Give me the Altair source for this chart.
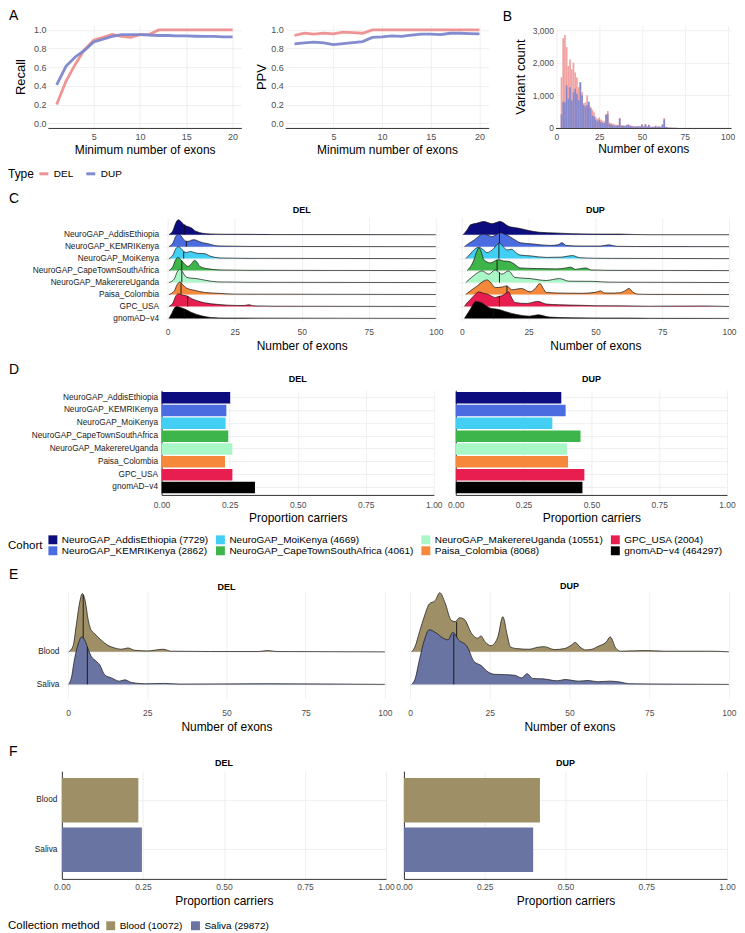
import altair as alt
import pandas as pd

FONT = "Liberation Sans"
GRID = "#EBEBEB"
LAB = "#4D4D4D"
AXL = "#333333"

# ---------------- Panel A data ----------------
MIN_EXONS = list(range(1, 21))
RECALL_DEL = [0.20, 0.45, 0.63, 0.79, 0.89, 0.92, 0.95, 0.93, 0.92, 0.95, 0.95, 1.0, 1.0, 1.0, 1.0, 1.0, 1.0, 1.0, 1.0, 1.0]
RECALL_DUP = [0.41, 0.61, 0.71, 0.78, 0.87, 0.90, 0.93, 0.95, 0.95, 0.95, 0.945, 0.94, 0.94, 0.936, 0.936, 0.932, 0.93, 0.93, 0.925, 0.925]
PPV_DEL = [0.94, 0.965, 0.955, 0.965, 0.957, 0.975, 0.971, 0.964, 1.0, 1.0, 1.0, 1.0, 1.0, 1.0, 1.0, 1.0, 1.0, 1.0, 1.0, 1.0]
PPV_DUP = [0.85, 0.86, 0.868, 0.86, 0.843, 0.854, 0.864, 0.875, 0.92, 0.925, 0.936, 0.93, 0.943, 0.954, 0.954, 0.95, 0.964, 0.964, 0.96, 0.957]
TYPES = ["DEL", "DUP"]
TYPE_COLORS = ["#EE8E8E", "#7B86CC"]

# ---------------- Panel B data ----------------
B_BINS = list(range(3, 71))
B_DEL = [1550, 2750, 2850, 2480, 1900, 2100, 1800, 2000, 1700, 1550, 1250, 1400, 1100, 760, 780, 1000,
         700, 650, 560, 480, 340, 280, 320, 260, 220, 200, 420, 520, 170, 150, 130, 110, 100, 90, 300, 90,
         80, 70, 90, 110, 80, 70, 60, 50, 50, 60, 50, 110, 50, 120, 50, 100, 40, 40, 40, 70, 40, 50, 40,
         110, 300, 40, 20, 15, 10, 10, 8, 8]
B_DUP = [420, 800, 780, 1300, 900, 1250, 850, 1100, 1200, 1050, 850, 1400, 1000, 700, 650, 700,
         800, 600, 380, 350, 250, 200, 250, 180, 150, 150, 400, 430, 120, 100, 80, 80, 60, 80, 290, 60,
         60, 60, 80, 100, 60, 50, 40, 40, 40, 50, 40, 100, 40, 110, 40, 90, 30, 30, 30, 60, 30, 40, 30,
         100, 260, 30, 15, 10, 8, 6, 5, 5]

# ---------------- Cohorts ----------------
COHORTS = ["NeuroGAP_AddisEthiopia", "NeuroGAP_KEMRIKenya", "NeuroGAP_MoiKenya",
           "NeuroGAP_CapeTownSouthAfrica", "NeuroGAP_MakerereUganda", "Paisa_Colombia",
           "GPC_USA", "gnomAD\u2212v4"]
COHORT_N = [7729, 2862, 4669, 4061, 10551, 8068, 2004, 464297]
COHORT_COLORS = ["#0C0C7E", "#4A6CE0", "#43CEF4", "#3DB54A", "#A9F6C6", "#F5883B", "#E81E50", "#000000"]
COHORT_BASES = [7, 6, 5, 4, 3, 2, 1, 0]
LEGEND_ORDER = [0, 2, 4, 6, 1, 3, 5, 7]  # ggplot fills the 2-row legend by column

# Panel C ridge curves: (number of exons, ridge height in row units)
C_DEL_ADDIS = [(0.5, 0), (2, 0.35), (3, 0.95), (4, 1.25), (5, 1.1), (6, 0.85), (7, 0.72), (8, 0.65), (9, 0.55), (10, 0.35), (11, 0.25), (13, 0.12), (16, 0.06), (20, 0.04), (30, 0.03), (40, 0.01), (100, 0)]
C_DEL_KEMRI = [(0.5, 0), (2, 0.3), (3, 0.85), (4, 1.05), (5, 0.9), (6, 0.6), (7, 0.45), (8, 0.45), (9, 0.55), (10, 0.58), (11, 0.5), (13, 0.33), (15, 0.25), (17.5, 0.1), (20, 0.05), (30, 0.02), (100, 0)]
C_DEL_MOI = [(0.5, 0), (2, 0.3), (3, 0.8), (4, 1.0), (5, 0.85), (6, 0.6), (7, 0.5), (8.5, 0.6), (10, 0.5), (12, 0.42), (13.5, 0.42), (16, 0.2), (20, 0.05), (30, 0.02), (100, 0)]
C_DEL_CAPE = [(0.5, 0), (2, 0.35), (3, 0.9), (3.8, 1.1), (5, 0.9), (6.5, 0.5), (7.6, 0.35), (9, 0.6), (10, 0.85), (11, 0.7), (12, 0.35), (15, 0.15), (20, 0.05), (30, 0.02), (100, 0)]
C_DEL_MAK = [(0.5, 0), (2.5, 0.3), (3.5, 0.85), (4.6, 1.1), (5.5, 0.9), (7, 0.45), (9, 0.36), (10.7, 0.33), (13.8, 0.2), (18.8, 0.05), (30, 0.02), (100, 0)]
C_DEL_PAISA = [(0.5, 0), (2.5, 0.3), (3.5, 0.8), (4.6, 1.05), (5.5, 0.85), (7, 0.55), (10, 0.35), (13.8, 0.17), (18.8, 0.1), (25, 0.03), (100, 0)]
C_DEL_GPC = [(0.5, 0), (2, 0.3), (3, 0.85), (4, 1.05), (5.5, 0.95), (7.5, 0.85), (9, 0.65), (10.7, 0.5), (13.8, 0.3), (18.8, 0.17), (26, 0.08), (28.5, 0.08), (30.5, 0.14), (32, 0.05), (40, 0.02), (100, 0)]
C_DEL_GNOMAD = [(0.5, 0), (1.5, 0.4), (2.5, 0.85), (3.3, 1.0), (5, 0.9), (6.4, 0.78), (8.9, 0.5), (12.6, 0.22), (16, 0.08), (22, 0.03), (100, 0)]

C_DUP_ADDIS = [(0.5, 0), (2, 0.4), (3.3, 0.83), (5.5, 0.95), (8.2, 1.1), (11.3, 0.92), (14.4, 1.1), (17.5, 0.7), (21, 0.55), (25, 0.35), (29, 0.2), (35, 0.14), (41.5, 0.08), (50, 0.05), (59, 0.05), (64, 0.02), (70, 0), (100, 0)]
C_DUP_KEMRI = [(1, 0), (2.5, 0.25), (4.6, 0.55), (6.5, 0.9), (8.2, 1.05), (9.8, 0.95), (11.3, 0.83), (12.8, 1.0), (14.4, 1.17), (16, 1.05), (18, 0.83), (20, 0.55), (21.8, 0.33), (26.7, 0.22), (33, 0.1), (36, 0.15), (37.5, 0.33), (39, 0.1), (45, 0.05), (52, 0.05), (55, 0.15), (58, 0.03), (65, 0.01), (100, 0)]
C_DUP_MOI = [(1.5, 0), (2.8, 0.3), (3.9, 0.58), (5.2, 0.85), (6.4, 0.95), (8, 0.75), (9.5, 0.5), (11.5, 0.75), (14.1, 1.28), (15.5, 1.0), (16.9, 0.72), (18.7, 0.78), (20, 0.55), (21.8, 0.3), (26, 0.22), (31.6, 0.1), (37, 0.12), (41.5, 0.25), (44, 0.08), (50, 0.03), (56, 0.02), (100, 0)]
C_DUP_CAPE = [(2, 0), (3.2, 0.3), (4.6, 0.92), (5.6, 1.6), (6.4, 1.9), (7.3, 1.55), (8.2, 0.92), (10.7, 0.64), (13.8, 0.92), (15.5, 0.8), (16.9, 0.78), (18.5, 0.7), (19.9, 0.5), (21.8, 0.22), (27.9, 0.17), (35.3, 0.14), (38.5, 0.2), (40.8, 0.28), (42.5, 0.1), (46.4, 0.22), (48.5, 0.05), (55, 0.02), (100, 0)]
C_DUP_MAK = [(1.5, 0), (3.5, 0.4), (5.2, 0.7), (7.6, 0.97), (10.1, 0.7), (12.5, 1.05), (15, 0.7), (17.5, 0.97), (19.9, 0.42), (25.5, 0.33), (31.6, 0.17), (36.5, 0.33), (40.2, 0.11), (48.8, 0.1), (55, 0.03), (100, 0)]
C_DUP_PAISA = [(1.5, 0), (3.5, 0.35), (5.8, 0.72), (8, 1.1), (9.5, 1.22), (11, 0.95), (12.5, 0.58), (15, 0.62), (16.9, 0.72), (18.7, 0.39), (20.5, 0.45), (22.4, 0.5), (25.5, 0.22), (27.5, 0.5), (29.2, 0.92), (30.5, 0.5), (31.6, 0.17), (39, 0.11), (45, 0.1), (50, 0.18), (51.9, 0.3), (53.5, 0.12), (57, 0.12), (59.3, 0.15), (61, 0.3), (62.6, 0.5), (64, 0.2), (66, 0.03), (70, 0.01), (100, 0)]
C_DUP_GPC = [(1, 0), (2, 0.3), (3.3, 0.6), (5, 1.0), (6.4, 1.22), (8, 1.1), (9.5, 1.03), (11, 0.88), (12.5, 0.75), (14, 0.85), (15, 0.89), (16.5, 1.1), (17.5, 1.22), (18.5, 0.8), (19.9, 0.33), (24.2, 0.25), (28.5, 0.42), (31.6, 0.2), (36.5, 0.14), (44, 0.1), (50, 0.06), (59.3, 0.05), (70, 0.02), (90, 0.04), (100, 0)]
C_DUP_GNOMAD = [(1, 0), (2, 0.35), (3.3, 0.8), (4.3, 1.2), (5.2, 1.42), (6.4, 1.38), (7.6, 1.28), (9, 1.05), (10.7, 0.86), (12, 0.8), (13.8, 0.75), (16.9, 0.53), (20.5, 0.33), (25.5, 0.19), (28.5, 0.3), (32.8, 0.11), (41.5, 0.05), (55, 0.03), (62, 0.03), (70, 0.01), (100, 0)]

# medians: (number of exons, ridge height at the median)
C_DEL_MEDIANS = [(6.4, 0.85), (7.0, 0.45), (6.0, 0.6), (5.3, 0.8), (5.3, 0.95), (5.0, 0.95), (7.5, 0.85), (6.2, 0.8)]
C_DUP_MEDIANS = [(14.1, 1.1), (14.1, 1.15), (13.9, 1.25), (13.2, 0.88), (14.1, 0.85), (16.9, 0.72), (14.1, 0.85), (11.9, 0.8)]

# Panel D: proportion carriers
D_DEL = [0.252, 0.238, 0.235, 0.245, 0.26, 0.233, 0.26, 0.343]
D_DUP = [0.389, 0.405, 0.356, 0.46, 0.41, 0.414, 0.474, 0.467]

# ---------------- Collection method ----------------
METHODS = ["Blood", "Saliva"]
METHOD_N = [10072, 29872]
METHOD_COLORS = ["#9E8F66", "#6A74A3"]
METHOD_BASES = [1, 0]

E_DEL_BLOOD = [(0.2, 0), (1.6, 0.18), (2.6, 0.82), (3.7, 1.53), (4.5, 1.79), (5.5, 1.53), (6.3, 1.02), (7.1, 0.71), (8.4, 0.56), (10.5, 0.36), (12.6, 0.2), (14.7, 0.12), (16.8, 0.08), (18.9, 0.12), (21, 0.05), (25.2, 0.03), (30, 0.08), (32.6, 0.02), (45, 0.01), (60, 0.01), (63, 0.04), (66, 0.01), (100, 0)]
E_DEL_SALIVA = [(0.2, 0), (1, 0.18), (2.1, 0.8), (3.4, 1.3), (4.3, 1.46), (5.3, 1.36), (6.3, 1.1), (7.4, 0.85), (8.6, 0.74), (10, 0.6), (11.6, 0.29), (13.7, 0.2), (16.3, 0.1), (17.9, 0.14), (20, 0.06), (24.2, 0.02), (30.5, 0.03), (35, 0.01), (63, 0.02), (100, 0)]
E_DUP_BLOOD = [(0.5, 0), (1.5, 0.15), (3, 0.63), (4.5, 1.1), (6, 1.47), (7.9, 1.58), (9.3, 1.82), (11, 1.5), (12.9, 0.97), (14.2, 0.93), (15.5, 1.05), (17, 1.0), (19.4, 0.55), (21.2, 0.42), (22.2, 0.49), (23.6, 0.3), (25.4, 0.19), (27.5, 0.45), (29.1, 1.08), (30.5, 0.5), (31.5, 0.15), (33.5, 0.1), (37.3, 0.08), (40, 0.14), (42.1, 0.16), (45.3, 0.07), (48.4, 0.1), (50.5, 0.2), (51.8, 0.29), (53.3, 0.15), (55.1, 0.06), (57, 0.08), (59, 0.17), (61.5, 0.3), (62.8, 0.46), (64.5, 0.12), (66, 0.02), (73.8, 0.04), (80, 0.02), (94.6, 0.02), (100, 0)]
E_DUP_SALIVA = [(0.5, 0), (1.5, 0.15), (3, 0.79), (4.5, 1.37), (6, 1.68), (8.2, 1.58), (10.4, 1.42), (11.9, 1.37), (13.4, 1.6), (15.2, 1.37), (17.9, 1.16), (20.1, 0.7), (22.3, 0.58), (24.2, 0.4), (26.5, 0.31), (29.8, 0.3), (32.8, 0.28), (35, 0.2), (36.7, 0.33), (38.5, 0.18), (41.7, 0.17), (46.2, 0.11), (48.6, 0.15), (52.9, 0.1), (55.9, 0.12), (58.9, 0.08), (62.6, 0.1), (66, 0.07), (68.6, 0.02), (79.7, 0.01), (100, 0)]
E_DEL_MEDIANS = [(4.8, 1.75), (6.1, 1.15)]
E_DUP_MEDIANS = [(14.6, 0.92), (13.7, 1.55)]

# Panel F: proportion carriers
F_DEL = [0.236, 0.247]
F_DUP = [0.421, 0.40]


# ================= helpers =================
def ridge_frame(curves, names, bases):
    rows = []
    for name, base, pts in zip(names, bases, curves):
        for x, h in pts:
            rows.append({"grp": name, "x": x, "base": base, "top": base + h})
    return pd.DataFrame(rows)


def median_frame(meds, names, bases):
    return pd.DataFrame([{"grp": n, "mx": m[0], "mbase": b, "mtop": b + m[1]}
                         for n, b, m in zip(names, bases, meds)])


def label_expr(names, bases):
    expr = "''"
    for n, b in zip(names, bases):
        expr = f"datum.value == {b} ? '{n}' : ({expr})"
    return expr


def spacer():
    return alt.Chart(pd.DataFrame({"s": [0]})).mark_point(size=1, opacity=0).encode(
        x=alt.X("s:Q", axis=None), y=alt.Y("s:Q", axis=None)).properties(width=1, height=1)


def letter_title(letter, dx, offset=0):
    return alt.TitleParams(letter, anchor="start", frame="group", dx=dx, fontSize=14,
                           fontWeight="normal", offset=offset, color="black")


def ridge_chart(df, med, names, bases, colors, width, height, xdom, ydom, title,
                show_labels, label_pad=4, x_label_pad=6, x_title_pad=4, title_offset=3):
    if show_labels:
        yaxis = alt.Axis(values=bases, labelExpr=label_expr(names, bases), labelColor="#1A1A1A",
                         labelFontSize=8.3, labelPadding=label_pad, ticks=False, domain=False,
                         grid=True, labelOverlap=False, title=None)
    else:
        yaxis = alt.Axis(values=bases, labels=False, ticks=False, domain=False, grid=True, title=None)
    xaxis = alt.Axis(values=[0, 25, 50, 75, 100], title="Number of exons", grid=True,
                     labelPadding=x_label_pad, titlePadding=x_title_pad)
    xs = alt.Scale(domain=xdom, nice=False, zero=False)
    ys = alt.Scale(domain=ydom, nice=False, zero=False)
    layers = []
    for name, col in zip(names, colors):
        f = alt.datum.grp == name
        base = alt.Chart(df).transform_filter(f)
        enc = dict(x=alt.X("x:Q", scale=xs, axis=xaxis), y=alt.Y("top:Q", scale=ys, axis=yaxis))
        layers.append(base.mark_area(interpolate="monotone", color=col, opacity=1)
                      .encode(y2=alt.Y2("base"), **enc))
        layers.append(base.mark_line(interpolate="monotone", color="#111111", strokeWidth=0.7)
                      .encode(**enc))
        layers.append(alt.Chart(med).transform_filter(f).mark_rule(color="#111111", strokeWidth=0.9)
                      .encode(x=alt.X("mx:Q", scale=xs, axis=xaxis),
                              y=alt.Y("mbase:Q", scale=ys, axis=yaxis), y2=alt.Y2("mtop")))
    return alt.layer(*layers).properties(
        width=width, height=height,
        title=alt.TitleParams(title, fontSize=9, fontWeight="bold", offset=title_offset))


def bar_chart(df, cats, width, height, title, show_labels, color_domain, color_range, legend,
              label_pad=4, x_label_pad=5, x_title_pad=4, pad_inner=0.1, pad_outer=0.13,
              title_offset=3):
    if show_labels:
        yaxis = alt.Axis(labels=True, labelColor="#1A1A1A", labelFontSize=8.3, labelPadding=label_pad,
                         ticks=False, domain=True, domainColor=AXL, domainWidth=1, grid=True, title=None)
    else:
        yaxis = alt.Axis(labels=False, ticks=False, domain=True, domainColor=AXL, domainWidth=1,
                         grid=True, title=None)
    return alt.Chart(df).mark_bar().encode(
        y=alt.Y("cat:N", sort=cats, scale=alt.Scale(paddingInner=pad_inner, paddingOuter=pad_outer),
                axis=yaxis),
        x=alt.X("prop:Q", scale=alt.Scale(domain=[0, 1], nice=False),
                axis=alt.Axis(values=[0, 0.25, 0.5, 0.75, 1.0], format=".2f", title="Proportion carriers",
                              domain=True, domainColor=AXL, domainWidth=1, grid=True,
                              labelPadding=x_label_pad, titlePadding=x_title_pad)),
        color=alt.Color("lab:N", scale=alt.Scale(domain=color_domain, range=color_range), legend=legend),
    ).properties(width=width, height=height,
                 title=alt.TitleParams(title, fontSize=9, fontWeight="bold", offset=title_offset))


# ================= Row A / B =================
a_rows = []
for i, n in enumerate(MIN_EXONS):
    a_rows.append({"n": n, "Type": "DEL", "recall": RECALL_DEL[i], "ppv": PPV_DEL[i]})
    a_rows.append({"n": n, "Type": "DUP", "recall": RECALL_DUP[i], "ppv": PPV_DUP[i]})
a_df = pd.DataFrame(a_rows)

type_legend = alt.Legend(orient="none", legendX=0, legendY=143, direction="horizontal", title="Type",
                         titleOrient="left", titleFontSize=12, titleFontWeight="normal",
                         titleColor="black", titleBaseline="middle", titleAnchor="middle",
                         titlePadding=3, symbolType="stroke", symbolStrokeWidth=3, symbolSize=80,
                         labelFontSize=10, labelColor="black", columnPadding=6, labelLimit=0)


def a_panel(field, ytitle, width, tpad, title=None):
    ch = alt.Chart(a_df).mark_line(strokeWidth=2.8, opacity=0.95).encode(
        x=alt.X("n:Q", scale=alt.Scale(domain=[0.05, 20.95], nice=False, zero=False),
                axis=alt.Axis(values=[5, 10, 15, 20], title="Minimum number of exons", grid=True,
                              domain=True, domainColor=AXL, domainWidth=1, labelPadding=4.5,
                              titlePadding=3, labelFontSize=9)),
        y=alt.Y(f"{field}:Q", scale=alt.Scale(domain=[-0.05, 1.05], nice=False, zero=False),
                axis=alt.Axis(values=[0, 0.2, 0.4, 0.6, 0.8, 1.0], format=".1f", title=ytitle,
                              grid=True, labelFontSize=9, titlePadding=tpad, titleFontSize=13)),
        color=alt.Color("Type:N", scale=alt.Scale(domain=TYPES, range=TYPE_COLORS), legend=type_legend),
    )
    props = dict(width=width, height=103)
    if title is not None:
        props["title"] = title
    return ch.properties(**props)


a_left = a_panel("recall", "Recall", 194, 6, letter_title("A", -39, 1))
a_right = a_panel("ppv", "PPV", 204, 2)

b_rows = []
for i, n in enumerate(B_BINS):
    b_rows.append({"n": n, "lo": n - 0.5, "hi": n + 0.5, "Type": "DEL", "count": B_DEL[i]})
    b_rows.append({"n": n, "lo": n - 0.5, "hi": n + 0.5, "Type": "DUP", "count": B_DUP[i]})
b_df = pd.DataFrame(b_rows)
b_x = alt.X("lo:Q", scale=alt.Scale(domain=[-0.5, 102], nice=False, zero=False),
            axis=alt.Axis(values=[0, 25, 50, 75, 100], title="Number of exons", grid=True, domain=True,
                          domainColor=AXL, domainWidth=1, labelPadding=4.5, titlePadding=3))
b_y = alt.Y("count:Q", scale=alt.Scale(domain=[0, 3150], nice=False),
            axis=alt.Axis(values=[0, 1000, 2000, 3000], format=",.0f", title="Variant count", grid=True,
                          titlePadding=5, titleFontSize=13))
b_layers = []
for t, col in zip(TYPES, ["#F09C9C", "#7F87CF"]):
    b_layers.append(alt.Chart(b_df).transform_filter(alt.datum.Type == t)
                    .mark_bar(color=col, opacity=0.95)
                    .encode(x=b_x, x2="hi", y=b_y, y2=alt.Y2Datum(0)))
b_chart = alt.layer(*b_layers).properties(width=176, height=103, title=letter_title("B", -53, 1))

row_a = alt.hconcat(spacer(), alt.hconcat(a_left, a_right, b_chart, spacing=14), spacing=0)

# ================= Row C =================
C_DEL_CURVES = [C_DEL_ADDIS, C_DEL_KEMRI, C_DEL_MOI, C_DEL_CAPE, C_DEL_MAK, C_DEL_PAISA, C_DEL_GPC, C_DEL_GNOMAD]
C_DUP_CURVES = [C_DUP_ADDIS, C_DUP_KEMRI, C_DUP_MOI, C_DUP_CAPE, C_DUP_MAK, C_DUP_PAISA, C_DUP_GPC, C_DUP_GNOMAD]
c_del = ridge_chart(ridge_frame(C_DEL_CURVES, COHORTS, COHORT_BASES),
                    median_frame(C_DEL_MEDIANS, COHORTS, COHORT_BASES),
                    COHORTS, COHORT_BASES, COHORT_COLORS, 277, 104, [-1.5, 101.5], [-0.25, 8.42],
                    "DEL", True, label_pad=5, x_label_pad=6.5, x_title_pad=4)
c_dup = ridge_chart(ridge_frame(C_DUP_CURVES, COHORTS, COHORT_BASES),
                    median_frame(C_DUP_MEDIANS, COHORTS, COHORT_BASES),
                    COHORTS, COHORT_BASES, COHORT_COLORS, 276, 104, [-1.5, 101.5], [-0.25, 8.42],
                    "DUP", False, x_label_pad=6.5, x_title_pad=4)
row_c = alt.hconcat(spacer(), alt.hconcat(c_del, c_dup, spacing=14, title=letter_title("C", -155, 0)),
                    spacing=0)

# ================= Row D =================
cohort_labels = [f"{c} ({n})" for c, n in zip(COHORTS, COHORT_N)]
leg_domain = [cohort_labels[i] for i in LEGEND_ORDER]
leg_range = [COHORT_COLORS[i] for i in LEGEND_ORDER]
cohort_legend = alt.Legend(orient="none", legendX=0, legendY=145, direction="horizontal", columns=4,
                           title="Cohort", titleOrient="left", titleFontSize=11.5, titleFontWeight="normal",
                           titleColor="black", titleAnchor="middle", titleBaseline="middle",
                           titlePadding=5, symbolType="square", symbolSize=80, symbolStrokeWidth=0,
                           labelFontSize=10, labelColor="black", columnPadding=7, rowPadding=1,
                           labelLimit=0)
d_del_df = pd.DataFrame({"cat": COHORTS, "prop": D_DEL, "lab": cohort_labels})
d_dup_df = pd.DataFrame({"cat": COHORTS, "prop": D_DUP, "lab": cohort_labels})
d_del = bar_chart(d_del_df, COHORTS, 273, 105, "DEL", True, leg_domain, leg_range, cohort_legend,
                  label_pad=4, x_label_pad=5.5, x_title_pad=3.5, title_offset=6)
d_dup = bar_chart(d_dup_df, COHORTS, 272, 105, "DUP", False, leg_domain, leg_range, cohort_legend,
                  x_label_pad=5.5, x_title_pad=3.5, title_offset=6)
row_d = alt.hconcat(spacer(), alt.hconcat(d_del, d_dup, spacing=4, title=letter_title("D", -153, -2)),
                    spacing=0)

# ================= Row E =================
e_del = ridge_chart(ridge_frame([E_DEL_BLOOD, E_DEL_SALIVA], METHODS, METHOD_BASES),
                    median_frame(E_DEL_MEDIANS, METHODS, METHOD_BASES),
                    METHODS, METHOD_BASES, METHOD_COLORS, 324, 107, [-1, 101], [-0.43, 2.85],
                    "DEL", True, label_pad=6, x_label_pad=10, x_title_pad=5, title_offset=0)
e_dup = ridge_chart(ridge_frame([E_DUP_BLOOD, E_DUP_SALIVA], METHODS, METHOD_BASES),
                    median_frame(E_DUP_MEDIANS, METHODS, METHOD_BASES),
                    METHODS, METHOD_BASES, METHOD_COLORS, 326, 107, [-1, 101], [-0.43, 2.85],
                    "DUP", False, x_label_pad=10, x_title_pad=5, title_offset=0)
row_e = alt.hconcat(spacer(), alt.hconcat(e_del, e_dup, spacing=15, title=letter_title("E", -56, 0)),
                    spacing=0)

# ================= Row F =================
method_labels = [f"{m} ({n})" for m, n in zip(METHODS, METHOD_N)]
method_legend = alt.Legend(orient="none", legendX=0, legendY=150, direction="horizontal",
                           title="Collection method", titleOrient="left", titleFontSize=11.5,
                           titleFontWeight="normal", titleColor="black", titleAnchor="middle",
                           titleBaseline="middle", titlePadding=5, symbolType="square", symbolSize=80,
                           symbolStrokeWidth=0, labelFontSize=10, labelColor="black", columnPadding=8,
                           labelLimit=0)
f_del_df = pd.DataFrame({"cat": METHODS, "prop": F_DEL, "lab": method_labels})
f_dup_df = pd.DataFrame({"cat": METHODS, "prop": F_DUP, "lab": method_labels})
f_del = bar_chart(f_del_df, METHODS, 325, 108, "DEL", True, method_labels, METHOD_COLORS, method_legend,
                  label_pad=5, x_label_pad=3.5, x_title_pad=5, pad_inner=0.1, pad_outer=0.14)
f_dup = bar_chart(f_dup_df, METHODS, 324, 108, "DUP", False, method_labels, METHOD_COLORS, method_legend,
                  x_label_pad=3.5, x_title_pad=5, pad_inner=0.1, pad_outer=0.14)
row_f = alt.hconcat(spacer(), alt.hconcat(f_del, f_dup, spacing=0, title=letter_title("F", -53, 0)),
                    spacing=0)

chart = alt.vconcat(row_a, row_c, row_d, row_e, row_f, spacing=12).resolve_scale(
    color="independent").properties(padding=0)

chart = chart.configure(font=FONT).configure_view(stroke=None).configure_axis(
    labelFont=FONT, titleFont=FONT, labelColor=LAB, labelFontSize=8.5, titleFontSize=12,
    titleFontWeight="normal", titleColor="black", gridColor=GRID, gridWidth=0.8, ticks=False,
    tickSize=0, domain=False, labelFlush=False
).configure_title(font=FONT, color="black", anchor="middle").configure_legend(
    labelFont=FONT, titleFont=FONT)

chart.save("out.html", embed_options={"renderer": "svg", "actions": False})
